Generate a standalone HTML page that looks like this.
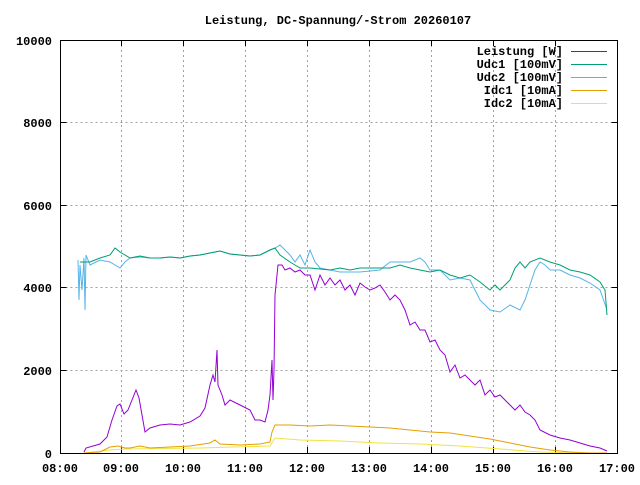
<!DOCTYPE html>
<html><head><meta charset="utf-8"><style>
html,body{margin:0;padding:0;background:#fff;}
svg text{font-family:"Liberation Mono",monospace;font-weight:bold;font-size:12px;fill:#000;}
</style></head><body>
<svg width="640" height="480" viewBox="0 0 640 480" xmlns="http://www.w3.org/2000/svg">
<rect width="640" height="480" fill="#fff"/>
<text x="338" y="24" text-anchor="middle">Leistung, DC-Spannung/-Strom 20260107</text>
<g stroke="#a0a0a0" stroke-width="1" stroke-dasharray="2,3" fill="none">
<path d="M60.5 370.5H617.5M60.5 287.5H617.5M60.5 205.5H617.5M60.5 122.5H617.5"/>
<path d="M121.5 40V453M183.5 40V453M245.5 40V453M307.5 40V453M369.5 40V453M431.5 40V453M493.5 40V453M555.5 40V453"/>
</g>
<g stroke="#000" stroke-width="1">
<path d="M60.5 453.5h6M60.5 370.5h6M60.5 287.5h6M60.5 205.5h6M60.5 122.5h6M60.5 40.5h6M617.5 453.5h-6M617.5 370.5h-6M617.5 287.5h-6M617.5 205.5h-6M617.5 122.5h-6M617.5 40.5h-6"/>
<path d="M121.5 453v-6M183.5 453v-6M245.5 453v-6M307.5 453v-6M369.5 453v-6M431.5 453v-6M493.5 453v-6M555.5 453v-6M121.5 40v6M183.5 40v6M245.5 40v6M307.5 40v6M369.5 40v6M431.5 40v6M493.5 40v6M555.5 40v6"/>
</g>
<g text-anchor="end">
<text x="52" y="458">0</text><text x="52" y="375">2000</text><text x="52" y="292">4000</text><text x="52" y="210">6000</text><text x="52" y="127">8000</text><text x="52" y="45">10000</text>
</g>
<g text-anchor="middle">
<text x="60" y="472">08:00</text><text x="121" y="472">09:00</text><text x="183" y="472">10:00</text><text x="245" y="472">11:00</text><text x="307" y="472">12:00</text><text x="369" y="472">13:00</text><text x="431" y="472">14:00</text><text x="493" y="472">15:00</text><text x="555" y="472">16:00</text><text x="617" y="472">17:00</text>
</g>
<g fill="none" stroke-width="1">
<polyline stroke="#f0e442" points="84,453 110,450 125,449 200,448 270,446 275,438 300,440 340,441 380,443 420,444 460,446 500,449 540,452 580,453 607,453"/>
<polyline stroke="#e69f00" points="84,453 100,452 110,447 118,446 125,448 130,448 140,446 150,448 170,447 190,446 210,443 215,440 220,444 240,445 260,444 270,442 272,432 275,425 290,425 310,426 330,425 350,426 370,427 390,428 410,430 430,432 450,433 470,436 490,439 510,443 530,447 550,450 570,452 590,453 607,453"/>
<polyline stroke="#56b4e9" points="78,260 79,300 80,265 82,290 84,258 85,310 86,255 90,265 100,260 110,262 120,268 125,262 130,258 140,257 150,258 160,258 170,257 180,258 190,256 200,255 210,253 220,251 230,254 240,255 250,256 260,255 270,250 275,248 280,245 290,255 295,262 300,255 305,265 310,250 315,262 320,268 340,272 360,272 380,270 390,262 400,262 410,262 420,258 425,262 430,270 440,270 450,280 460,278 470,280 475,290 480,300 490,310 500,312 510,305 520,310 525,300 530,285 535,270 540,262 545,265 550,270 560,270 570,275 580,278 590,283 600,290 607,310"/>
<polyline stroke="#009e73" points="80,262 90,262 100,258 110,255 115,248 120,252 130,258 140,256 150,258 160,258 170,257 180,258 190,256 200,255 210,253 220,251 230,254 240,255 250,256 260,255 270,250 275,248 280,255 290,262 300,268 310,268 320,269 330,270 340,268 350,270 360,268 370,268 380,268 390,268 400,265 410,268 420,270 430,272 440,270 450,275 460,278 470,275 480,282 490,290 495,285 500,290 505,285 510,280 515,268 520,262 525,268 530,262 540,258 550,262 560,265 570,270 580,272 590,275 600,282 605,290 607,315"/>
<polyline stroke="#9400d3" points="84,452 86,448 100,444 107,437 112,420 117,406 120,404 124,414 128,410 132,400 136,390 139,398 142,415 145,432 150,428 160,425 170,424 180,425 190,422 200,416 205,408 210,385 213,375 215,382 217,350 218,385 222,395 225,405 230,400 240,405 250,410 255,420 260,420 265,422 268,410 270,395 272,360 273,400 274,370 275,295 276,285 278,265 282,265 285,270 290,268 295,272 300,270 305,275 310,275 315,290 320,275 325,285 330,278 335,285 340,280 345,290 350,285 355,295 360,283 365,287 370,290 375,288 380,285 385,292 390,300 395,295 400,300 405,310 410,325 415,322 420,330 425,330 430,342 435,340 440,350 445,355 450,372 455,365 460,378 465,375 470,380 475,385 480,380 485,395 490,390 495,397 500,395 505,400 510,405 515,410 520,405 525,412 530,415 535,420 540,430 550,435 560,438 570,440 580,443 590,446 600,448 607,451"/>
</g>
<rect x="60.5" y="40.5" width="557" height="413" fill="none" stroke="#000" stroke-width="1"/>
<g text-anchor="end">
<text x="563" y="55">Leistung [W]</text>
<text x="563" y="68">Udc1 [100mV]</text>
<text x="563" y="81">Udc2 [100mV]</text>
<text x="563" y="94">Idc1 [10mA]</text>
<text x="563" y="107">Idc2 [10mA]</text>
</g>
<rect x="571" y="51" width="36" height="1" fill="#9400d3"/>
<rect x="571" y="64" width="36" height="1" fill="#009e73"/>
<rect x="571" y="77" width="36" height="1" fill="#56b4e9"/>
<rect x="571" y="90" width="36" height="1" fill="#e69f00"/>
<rect x="571" y="103" width="36" height="1" fill="#f0e442"/>
</svg>
</body></html>
